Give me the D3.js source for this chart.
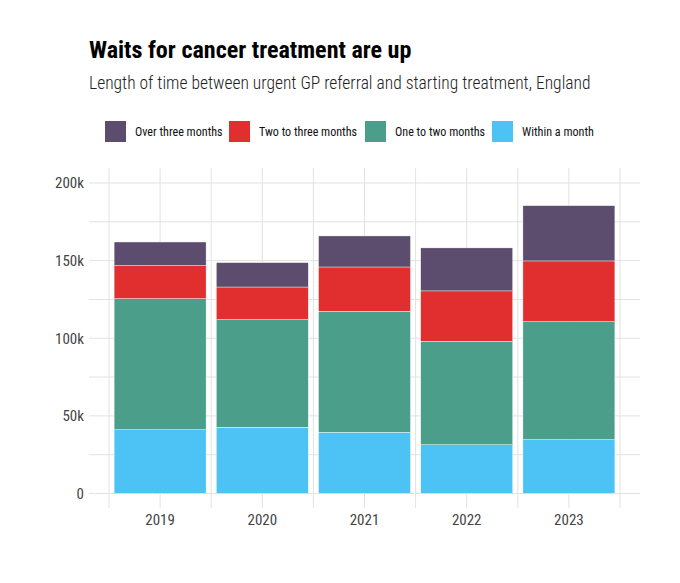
<!DOCTYPE html>
<html><head><meta charset="utf-8">
<script src="https://cdn.jsdelivr.net/npm/d3@7"></script>
<style>
body{margin:0;background:#fff;}
text{font-family:"Roboto Condensed","Liberation Sans Narrow",Roboto,sans-serif;}
</style></head>
<body><svg id="c" width="680" height="583"></svg>
<script>
const years = ["2019","2020","2021","2022","2023"];
const seriesNames = ["Over three months","Two to three months","One to two months","Within a month"];
const seriesColors = ["#5c4d6e","#e12f2f","#4b9e8a","#4dc3f5"];
const withinMonth = [41.1, 42.7, 39.4, 31.4, 34.7];
const oneToTwo = [84.4, 69.3, 78.0, 66.7, 76.0];
const twoToThree = [21.3, 21.0, 28.5, 32.4, 39.1];
const overThree = [15.2, 15.7, 20.0, 27.7, 35.6];
const yTicks = [0, 50, 100, 150, 200];
const yTickLabels = ["0","50k","100k","150k","200k"];

const svg = d3.select("#c");
const panel = {l:89, r:640, t:168, b:508};

const rows = years.map((y,i)=>({year:y, "Within a month":withinMonth[i], "One to two months":oneToTwo[i], "Two to three months":twoToThree[i], "Over three months":overThree[i]}));
const stackKeys = ["Within a month","One to two months","Two to three months","Over three months"];
const stacked = d3.stack().keys(stackKeys)(rows);

const y = d3.scaleLinear().domain([0,200]).range([493.5,183]);
const x = d3.scaleBand().domain(years).range([109,620]).paddingInner(0.1).paddingOuter(0.05);
const step = x.step();
const color = d3.scaleOrdinal().domain(seriesNames).range(seriesColors);

// grid
const g = svg.append("g");
d3.range(0,201,25).forEach(v=>{
  g.append("line").attr("x1",panel.l).attr("x2",panel.r).attr("y1",y(v)).attr("y2",y(v))
   .attr("stroke","#e2e2e2").attr("stroke-width",1);
});
years.forEach((yr,i)=>{
  const c = x(yr)+x.bandwidth()/2;
  g.append("line").attr("x1",c).attr("x2",c).attr("y1",panel.t).attr("y2",panel.b).attr("stroke","#e2e2e2");
  g.append("line").attr("x1",c-step/2).attr("x2",c-step/2).attr("y1",panel.t).attr("y2",panel.b).attr("stroke","#e2e2e2");
  if(i===years.length-1) g.append("line").attr("x1",c+step/2).attr("x2",c+step/2).attr("y1",panel.t).attr("y2",panel.b).attr("stroke","#e2e2e2");
});

// bars
svg.append("g").selectAll("g").data(stacked).join("g")
  .attr("fill",d=>color(d.key))
  .selectAll("rect").data(d=>d).join("rect")
  .attr("x",d=>x(d.data.year)).attr("width",x.bandwidth())
  .attr("y",d=>y(d[1])).attr("height",d=>y(d[0])-y(d[1]))
  .attr("stroke","#ffffff").attr("stroke-width",0.4);

// y axis
const ya = svg.append("g").attr("transform",`translate(${panel.l},0)`)
  .call(d3.axisLeft(y).tickValues(yTicks).tickFormat((d,i)=>yTickLabels[i]).tickSize(0).tickPadding(5));
ya.select(".domain").remove();
ya.selectAll("text").attr("font-size",15).attr("fill","#444").attr("font-family","'Roboto Condensed',Roboto,sans-serif");

// x axis
const xa = svg.append("g").attr("transform",`translate(0,${panel.b})`)
  .call(d3.axisBottom(x).tickSize(0).tickPadding(6));
xa.select(".domain").remove();
xa.selectAll("text").attr("font-size",15).attr("fill","#444").attr("font-family","'Roboto Condensed',Roboto,sans-serif");

// title
svg.append("text").attr("x",89).attr("y",58).attr("font-size",24.1).attr("font-weight","bold").attr("fill","#000")
  .text("Waits for cancer treatment are up");
svg.append("text").attr("x",89).attr("y",89).attr("font-size",17.5).attr("font-weight",300).attr("fill","#222")
  .text("Length of time between urgent GP referral and starting treatment, England");

// legend
const legX = [105,229,365,492];
const leg = svg.append("g");
seriesNames.forEach((s,i)=>{
  leg.append("rect").attr("x",legX[i]).attr("y",121).attr("width",21).attr("height",21).attr("fill",color(s));
  leg.append("text").attr("x",legX[i]+30).attr("y",136).attr("font-size",12.1).attr("fill","#111").text(s);
});
</script></body></html>
